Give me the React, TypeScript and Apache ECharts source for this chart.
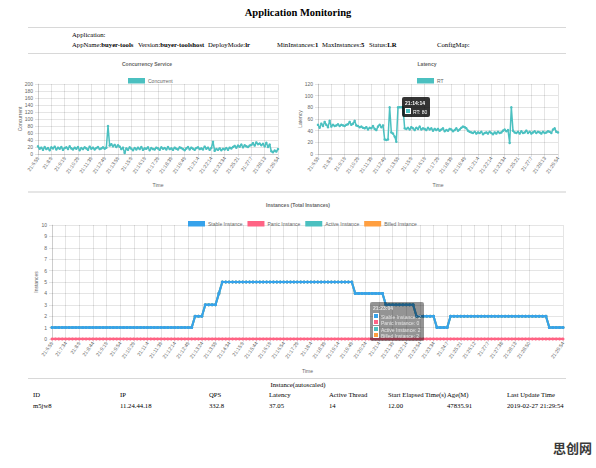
import React, { useEffect, useRef } from "react";
import * as echarts from "echarts";

const SANS = '"Liberation Sans", Arial, Helvetica, sans-serif';
const SERIF = '"Liberation Serif", "Times New Roman", Times, serif';
const LABEL_COLOR = "#666";
const GRID_COLOR = "rgba(0,0,0,0.1)";
const TEAL = "#4bc0c0";
const BLUE = "#36a2eb";
const RED = "#ff6384";
const ORANGE = "#ff9f40";

// ---------- data ----------
const topTickPoints = [0, 8, 16, 24, 32, 40, 48, 56, 64, 72, 80, 88, 96, 104, 112, 120, 128, 136, 144];
const topTickLabels = [
  "21:6:59", "21:8:9", "21:9:19", "21:10:29", "21:11:39", "21:12:49", "21:13:59", "21:15:9",
  "21:16:19", "21:17:29", "21:18:39", "21:19:49", "21:21:4", "21:22:14", "21:23:34", "21:25:21",
  "21:27:7", "21:28:13", "21:29:54",
];

const concurrentValues = [
  22, 15, 18, 12, 20, 14, 17, 11, 19, 16,
  21, 13, 18, 15, 20, 12, 17, 19, 14, 22,
  16, 13, 18, 15, 20, 11, 17, 14, 19, 16,
  12, 21, 15, 18, 13, 17, 20, 14, 16, 19,
  15, 18, 80, 24, 28, 22, 26, 20, 25, 21,
  14, 18, 3, 16, 12, 19, 15, 11, 17, 13,
  18, 14, 20, 12, 16, 15, 19, 11, 17, 14,
  13, 18, 16, 12, 19, 15, 17, 13, 20, 14,
  16, 12, 18, 15, 13, 19, 17, 14, 11, 16,
  20, 13, 18, 15, 12, 17, 19, 14, 16, 13,
  21, 15, 18, 12, 17, 35, 9, 14, 12, 16,
  11, 15, 13, 17, 12, 18, 16, 20, 23, 18,
  24, 21, 27, 19, 25, 22, 20, 24, 26, 31,
  24, 33, 28, 30, 25, 29, 22, 32, 20, 27,
  8, 5, 10, 7, 14,
];

const latencyValues = [
  50, 45, 52, 48, 55, 50, 46, 57, 47, 50,
  48, 49, 51, 48, 50, 49, 48, 50, 51, 55,
  50, 52, 57, 49, 48, 46, 47, 45, 44, 46,
  42, 45, 44, 48, 43, 41, 47, 50, 46, 49,
  25, 24, 25, 80, 37, 35, 30, 21, 80, 80,
  80, 80, 44, 43, 45, 42, 46, 44, 41, 45,
  43, 47, 42, 44, 43, 41, 45, 42, 44, 40,
  43, 41, 43, 40, 42, 44, 39, 41, 40, 43,
  42, 39, 41, 44, 40, 42, 45, 47, 46, 44,
  40, 38, 37, 36, 38, 35, 37, 36, 38, 34,
  36, 37, 35, 38, 36, 34, 37, 35, 38, 36,
  37, 40, 42, 39, 41, 19, 80, 40, 37, 36,
  38, 35, 39, 36, 37, 40, 36, 38, 35, 37,
  39, 36, 38, 37, 35, 38, 36, 37, 39, 38,
  36, 42, 44, 38, 37,
];
const latencyTipIndex = 49;
const latencyTipTime = "21:14:14";

const instanceTickPoints = [
  0, 4, 8, 12, 16, 20, 24, 28, 32, 36, 40, 44, 48, 52, 56, 60, 64, 68, 72, 76,
  80, 84, 88, 92, 96, 100, 104, 108, 112, 116, 120, 124, 128, 132, 136, 140, 150,
];
const instanceTickLabels = [
  "21:6:59", "21:7:34", "21:8:9", "21:8:44", "21:9:19", "21:9:54", "21:10:29", "21:11:4",
  "21:11:39", "21:12:14", "21:12:49", "21:13:24", "21:13:59", "21:14:34", "21:15:9", "21:15:44",
  "21:16:19", "21:16:54", "21:17:29", "21:18:4", "21:18:39", "21:19:14", "21:19:49", "21:20:24",
  "21:21:4", "21:21:39", "21:22:14", "21:22:54", "21:23:34", "21:24:7", "21:25:21", "21:26:12",
  "21:27:7", "21:27:38", "21:28:13", "21:28:50", "21:29:54",
];

const stableInstances = [
  1, 1, 1, 1, 1, 1, 1, 1, 1, 1,
  1, 1, 1, 1, 1, 1, 1, 1, 1, 1,
  1, 1, 1, 1, 1, 1, 1, 1, 1, 1,
  1, 1, 1, 1, 1, 1, 1, 1, 1, 1,
  1, 1, 2, 2, 2, 3, 3, 3, 3, 4,
  5, 5, 5, 5, 5, 5, 5, 5, 5, 5,
  5, 5, 5, 5, 5, 5, 5, 5, 5, 5,
  5, 5, 5, 5, 5, 5, 5, 5, 5, 5,
  5, 5, 5, 5, 5, 5, 5, 5, 5, 4,
  4, 4, 4, 4, 4, 4, 4, 4, 3, 3,
  3, 3, 3, 3, 3, 3, 3, 2, 2, 2,
  2, 2, 2, 1, 1, 1, 1, 2, 2, 2,
  2, 2, 2, 2, 2, 2, 2, 2, 2, 2,
  2, 2, 2, 2, 2, 2, 2, 2, 2, 2,
  2, 2, 2, 2, 2, 2, 1, 1, 1, 1,
  1,
];
const panicInstances = [
  0, 0, 0, 0, 0, 0, 0, 0, 0, 0,
  0, 0, 0, 0, 0, 0, 0, 0, 0, 0,
  0, 0, 0, 0, 0, 0, 0, 0, 0, 0,
  0, 0, 0, 0, 0, 0, 0, 0, 0, 0,
  0, 0, 0, 0, 0, 0, 0, 0, 0, 0,
  0, 0, 0, 0, 0, 0, 0, 0, 0, 0,
  0, 0, 0, 0, 0, 0, 0, 0, 0, 0,
  0, 0, 0, 0, 0, 0, 0, 0, 0, 0,
  0, 0, 0, 0, 0, 0, 0, 0, 0, 0,
  0, 0, 0, 0, 0, 0, 0, 0, 0, 0,
  0, 0, 0, 0, 0, 0, 0, 0, 0, 0,
  0, 0, 0, 0, 0, 0, 0, 0, 0, 0,
  0, 0, 0, 0, 0, 0, 0, 0, 0, 0,
  0, 0, 0, 0, 0, 0, 0, 0, 0, 0,
  0, 0, 0, 0, 0, 0, 0, 0, 0, 0,
  0,
];
const activeInstances = [
  1, 1, 1, 1, 1, 1, 1, 1, 1, 1,
  1, 1, 1, 1, 1, 1, 1, 1, 1, 1,
  1, 1, 1, 1, 1, 1, 1, 1, 1, 1,
  1, 1, 1, 1, 1, 1, 1, 1, 1, 1,
  1, 1, 2, 2, 2, 3, 3, 3, 3, 4,
  5, 5, 5, 5, 5, 5, 5, 5, 5, 5,
  5, 5, 5, 5, 5, 5, 5, 5, 5, 5,
  5, 5, 5, 5, 5, 5, 5, 5, 5, 5,
  5, 5, 5, 5, 5, 5, 5, 5, 5, 4,
  4, 4, 4, 4, 4, 4, 4, 4, 3, 3,
  3, 3, 3, 3, 3, 3, 3, 2, 2, 2,
  2, 2, 2, 1, 1, 1, 1, 2, 2, 2,
  2, 2, 2, 2, 2, 2, 2, 2, 2, 2,
  2, 2, 2, 2, 2, 2, 2, 2, 2, 2,
  2, 2, 2, 2, 2, 2, 1, 1, 1, 1,
  1,
];
const billedInstances = [
  1, 1, 1, 1, 1, 1, 1, 1, 1, 1,
  1, 1, 1, 1, 1, 1, 1, 1, 1, 1,
  1, 1, 1, 1, 1, 1, 1, 1, 1, 1,
  1, 1, 1, 1, 1, 1, 1, 1, 1, 1,
  1, 1, 2, 2, 2, 3, 3, 3, 3, 4,
  5, 5, 5, 5, 5, 5, 5, 5, 5, 5,
  5, 5, 5, 5, 5, 5, 5, 5, 5, 5,
  5, 5, 5, 5, 5, 5, 5, 5, 5, 5,
  5, 5, 5, 5, 5, 5, 5, 5, 5, 4,
  4, 4, 4, 4, 4, 4, 4, 4, 3, 3,
  3, 3, 3, 3, 3, 3, 3, 2, 2, 2,
  2, 2, 2, 1, 1, 1, 1, 2, 2, 2,
  2, 2, 2, 2, 2, 2, 2, 2, 2, 2,
  2, 2, 2, 2, 2, 2, 2, 2, 2, 2,
  2, 2, 2, 2, 2, 2, 1, 1, 1, 1,
  1,
];
const instanceSeriesNames = ["Stable Instance", "Panic Instance", "Active Instance", "Billed Instance"];
const instanceTipIndex = 110;
const instanceTipTime = "21:23:04";

const headerLabels = ["AppName:", "Version:", "DeployMode:", "MinInstances:", "MaxInstances:", "Status:", "ConfigMap:"];
const headerValues = ["buyer-tools", "buyer-toolshost", "lr", "1", "5", "LR", ""];
const tableHeaders = ["ID", "IP", "QPS", "Latency", "Active Thread", "Start Elapsed Time(s)", "Age(M)", "Last Update Time"];
const tableValues = ["m5jw8", "11.24.44.18", "332.8", "37.05", "14", "12.00", "47835.91", "2019-02-27 21:29:54"];

// ---------- layout ----------
const headerX = [72, 138, 208, 277, 322, 369, 437];
const tableX = [33, 120, 209, 269, 329, 388, 447, 507];

function tickHelper(points: number[], labels: string[]) {
  const map = new Map<number, string>();
  points.forEach((p, i) => map.set(p, labels[i]));
  return {
    isTick: (index: number) => map.has(index),
    label: (value: string) => map.get(Number(value)) ?? "",
  };
}

const txt = (size: number, weight: any = "normal") => ({
  fontSize: size,
  color: LABEL_COLOR,
  fontFamily: SANS,
  fontWeight: weight,
});

function xAxisOpt(count: number, tick: ReturnType<typeof tickHelper>, nameGap: number) {
  return {
    type: "category",
    data: Array.from({ length: count }, (_, i) => String(i)),
    boundaryGap: false,
    name: "Time",
    nameLocation: "middle",
    nameGap,
    nameMoveOverlap: false,
    nameTextStyle: txt(5),
    axisLine: { show: true, lineStyle: { color: GRID_COLOR, width: 1 } },
    axisTick: { show: true, length: 3, interval: tick.isTick, lineStyle: { color: GRID_COLOR } },
    axisLabel: {
      interval: tick.isTick,
      formatter: tick.label,
      rotate: 55,
      margin: 3,
      ...txt(5),
    },
    splitLine: { show: true, interval: tick.isTick, lineStyle: { color: GRID_COLOR, width: 1 } },
  };
}

function yAxisOpt(name: string, max: number, interval: number, nameGap: number) {
  return {
    type: "value",
    min: 0,
    max,
    interval,
    name,
    nameLocation: "middle",
    nameGap,
    nameMoveOverlap: false,
    nameTextStyle: txt(5),
    axisLine: { show: true, lineStyle: { color: GRID_COLOR } },
    axisTick: { show: true, length: 3, lineStyle: { color: GRID_COLOR } },
    axisLabel: { margin: 5, ...txt(5) },
    splitLine: { show: true, lineStyle: { color: GRID_COLOR, width: 1 } },
  };
}

function legendOpt(names: string[], left: number, top: number) {
  return {
    data: names,
    left,
    top,
    icon: "rect",
    itemWidth: 17,
    itemHeight: 5.5,
    itemGap: 5,
    selectedMode: false,
    textStyle: { ...txt(5), padding: [0, 0, 0, -2] },
  };
}

function titleGraphic(text: string, x: number, y: number) {
  return {
    type: "text",
    x,
    y,
    silent: true,
    style: {
      text,
      fill: LABEL_COLOR,
      fontSize: 5,
      fontWeight: "bold",
      fontFamily: SANS,
      align: "center",
      verticalAlign: "middle",
    },
  };
}

function lineSeries(name: string, data: number[], color: string, width: number, size: number, z = 2) {
  return {
    type: "line",
    name,
    data,
    symbol: "circle",
    symbolSize: size,
    showAllSymbol: true,
    z,
    lineStyle: { color, width },
    itemStyle: { color },
    emphasis: { disabled: true },
  };
}

const box = (c: string) =>
  `<span style="display:inline-block;width:4px;height:4px;background:${c};border:0.6px solid #fff;margin-right:2px;vertical-align:-0.5px"></span>`;

function useChart(build: (chart: any) => void) {
  const ref = useRef<HTMLDivElement>(null);
  useEffect(() => {
    const chart = echarts.init(ref.current!, null, { renderer: "svg" });
    build(chart);
    return () => chart.dispose();
  }, []);
  return ref;
}

function ConcurrencyChart() {
  const tick = tickHelper(topTickPoints, topTickLabels);
  const ref = useChart((chart) => {
    chart.setOption({
      animation: false,
      grid: { left: 38, right: 12, top: 29, bottom: 36, containLabel: false, outerBoundsMode: "none" },
      graphic: [titleGraphic("Concurrency Service", 147, 9)],
      legend: legendOpt(["Concurrent"], 123, 18),
      xAxis: xAxisOpt(concurrentValues.length, tick, 28),
      yAxis: yAxisOpt("Concurrent", 200, 20, 16),
      series: [lineSeries("Concurrent", concurrentValues, TEAL, 1.5, 2.5)],
    });
  });
  return <div ref={ref} style={{ position: "absolute", left: 0, top: 55, width: 290, height: 135 }} />;
}

function LatencyChart() {
  const tick = tickHelper(topTickPoints, topTickLabels);
  const ref = useChart((chart) => {
    chart.setOption({
      animation: false,
      grid: { left: 28, right: 32, top: 29, bottom: 36, containLabel: false, outerBoundsMode: "none" },
      graphic: [titleGraphic("Latency", 137, 9)],
      legend: legendOpt(["RT"], 122, 18),
      xAxis: xAxisOpt(latencyValues.length, tick, 28),
      yAxis: yAxisOpt("Latency", 120, 20, 16),
      tooltip: {
        trigger: "item",
        triggerOn: "none",
        alwaysShowContent: true,
        transitionDuration: 0,
        backgroundColor: "rgba(0,0,0,0.8)",
        borderWidth: 0,
        borderRadius: 2,
        padding: [2.5, 3],
        textStyle: { color: "#fff", fontSize: 5, fontFamily: SANS, lineHeight: 6 },
        extraCssText: "box-shadow:none;",
        position: (point: number[], _p: any, _d: any, _r: any, size: any) => [
          point[0] + 2,
          point[1] - size.contentSize[1] / 2,
        ],
        formatter: (p: any) =>
          `<div style="font-weight:bold;line-height:6px;margin-bottom:2px">${latencyTipTime}</div>` +
          `<div style="line-height:6px">${box(TEAL)}RT: ${latencyValues[p.dataIndex]}</div>`,
      },
      series: [lineSeries("RT", latencyValues, TEAL, 1.5, 2.5)],
    });
    chart.dispatchAction({ type: "showTip", seriesIndex: 0, dataIndex: latencyTipIndex });
  });
  return <div ref={ref} style={{ position: "absolute", left: 290, top: 55, width: 300, height: 135 }} />;
}

function InstancesChart() {
  const tick = tickHelper(instanceTickPoints, instanceTickLabels);
  const allSeries = [stableInstances, panicInstances, activeInstances, billedInstances];
  const colors = [BLUE, RED, TEAL, ORANGE];
  const ref = useChart((chart) => {
    chart.setOption({
      animation: false,
      grid: { left: 52, right: 33, top: 30, bottom: 36, containLabel: false, outerBoundsMode: "none" },
      graphic: [titleGraphic("Instances (Total Instances)", 298, 10)],
      legend: legendOpt(instanceSeriesNames, 183, 21),
      xAxis: xAxisOpt(stableInstances.length, tick, 29),
      yAxis: yAxisOpt("Instances", 10, 1, 14),
      tooltip: {
        trigger: "item",
        triggerOn: "none",
        alwaysShowContent: true,
        transitionDuration: 0,
        backgroundColor: "rgba(0,0,0,0.42)",
        borderWidth: 0,
        borderRadius: 2,
        padding: [2.5, 3],
        textStyle: { color: "rgba(255,255,255,0.75)", fontSize: 5, fontFamily: SANS, lineHeight: 6 },
        extraCssText: "box-shadow:none;",
        position: (point: number[], p: any, _d: any, _r: any, size: any) => {
          const i = p.dataIndex;
          const avg = allSeries.reduce((s, arr) => s + arr[i], 0) / allSeries.length;
          const py = chart.convertToPixel({ yAxisIndex: 0 }, avg);
          return [point[0] - size.contentSize[0] - 3, py - size.contentSize[1] / 2];
        },
        formatter: (p: any) => {
          const i = p.dataIndex;
          let html = `<div style="font-weight:bold;line-height:6px;margin-bottom:2px">${instanceTipTime}</div>`;
          instanceSeriesNames.forEach((n, k) => {
            html += `<div style="line-height:6px">${box(colors[k])}${n}: ${allSeries[k][i]}</div>`;
          });
          return html;
        },
      },
      series: [
        lineSeries("Stable Instance", stableInstances, BLUE, 2, 3, 6),
        lineSeries("Panic Instance", panicInstances, RED, 2.5, 3, 5),
        lineSeries("Active Instance", activeInstances, TEAL, 2, 3, 4),
        lineSeries("Billed Instance", billedInstances, ORANGE, 2, 3, 3),
      ],
    });
    chart.dispatchAction({ type: "showTip", seriesIndex: 0, dataIndex: instanceTipIndex });
  });
  return <div ref={ref} style={{ position: "absolute", left: 0, top: 195, width: 596, height: 180 }} />;
}

const abs = (left: number, top: number, extra: any = {}) => ({
  position: "absolute" as const,
  left,
  top,
  whiteSpace: "nowrap" as const,
  fontSize: 6.7,
  lineHeight: "8px",
  ...extra,
});

const hr = (top: number, height = 1, color = "#d8d8d8") => ({
  position: "absolute" as const,
  left: 28,
  width: 538,
  top,
  height,
  background: color,
});

export default function App() {
  return (
    <div
      style={{
        position: "absolute",
        left: 0,
        top: 0,
        width: 596,
        height: 468,
        overflow: "hidden",
        background: "#fff",
        fontFamily: SERIF,
        color: "#000",
      }}
    >
      <div style={abs(0, 6, { width: 596, textAlign: "center", fontSize: 10.5, fontWeight: "bold", lineHeight: "14px" })}>
        Application Monitoring
      </div>
      <div style={hr(27)} />
      <div style={abs(72, 31)}>Application:</div>
      {headerLabels.map((l, i) => (
        <div key={l} style={abs(headerX[i], 41)}>
          {l}
          <b>{headerValues[i]}</b>
        </div>
      ))}
      <div style={hr(53)} />

      <ConcurrencyChart />
      <LatencyChart />
      <div style={hr(191, 2, "#e6e6e6")} />
      <InstancesChart />

      <div style={hr(378)} />
      <div style={abs(0, 381, { width: 596, textAlign: "center" })}>Instance(autoscaled)</div>
      {tableHeaders.map((h, i) => (
        <div key={h} style={abs(tableX[i], 391)}>
          {h}
        </div>
      ))}
      {tableValues.map((v, i) => (
        <div key={"v" + i} style={abs(tableX[i], 402)}>
          {v}
        </div>
      ))}
      <div
        style={abs(553, 439, {
          fontFamily: '"Noto Sans CJK SC", sans-serif',
          fontSize: 13,
          lineHeight: "18px",
          fontWeight: "bold",
          color: "#3a3a3a",
        })}
      >
        思创网
      </div>
    </div>
  );
}
